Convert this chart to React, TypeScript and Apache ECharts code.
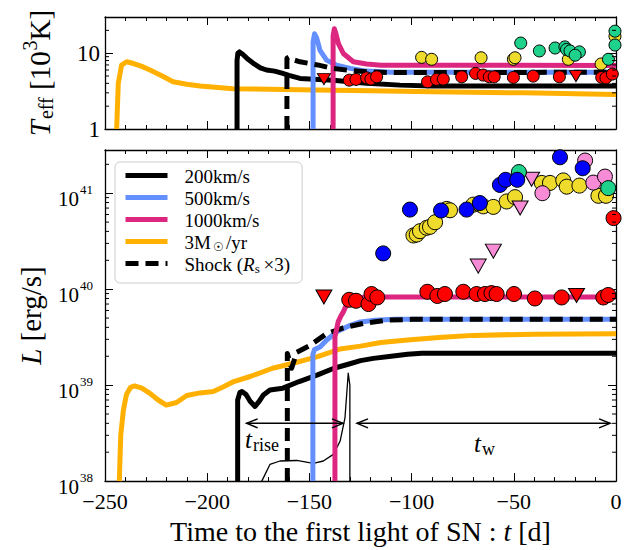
import React, { useEffect, useRef } from 'react';
import * as echarts from 'echarts';

const SERIF = '"Liberation Serif", "Times New Roman", serif';

// axis extents and ticks
const X_MIN = -250;
const X_MAX = 0;
const X_STEP = 50;
const TEFF_MIN = 1;
const TEFF_MAX = 30;
const LUM_MIN = 1e38;
const LUM_MAX = 2.82e41;
const teffMinorTicks = [2, 3, 4, 5, 6, 7, 8, 9, 20];
const lumMinorMantissas = [2, 3, 4, 5, 6, 7, 8, 9];
const lumMinorDecades = [1e38, 1e39, 1e40, 1e41];

// legend names
const N200 = '200km/s';
const N500 = '500km/s';
const N1000 = '1000km/s';
const NMDOT = '3M☉/yr';
const NSHOCK = 'Shock (Rs×3)';
const legendNames = [N200, N500, N1000, NMDOT, NSHOCK];

// ---- model curves: effective temperature [10^3 K] ----
const teff200 = [[-185.4, 1], [-185.4, 8], [-185, 10], [-184.2, 10.4], [-182.5, 9.6], [-180, 8.3], [-177.6, 7.4], [-174, 6.4], [-171, 6.0], [-167, 5.8], [-163, 5.4], [-160, 5.1], [-154.6, 4.65], [-138.5, 4.41], [-122, 4.0], [-105.7, 3.79], [-90, 3.7], [0, 3.7]];
const teff500 = [[-148.2, 1], [-148.2, 14], [-147.5, 18], [-146.5, 16], [-144.8, 10.9], [-141.6, 8.1], [-136.7, 6.95], [-130, 6.3], [-122, 5.8], [-110, 5.6], [0, 5.6]];
const teff1000 = [[-138.4, 1], [-138.4, 17], [-137.8, 21], [-137, 18], [-135.8, 13.4], [-133.4, 9.9], [-128.5, 7.7], [-122, 7.2], [-115, 6.95], [0, 6.9]];
const teffMdot = [[-244.3, 1], [-243.5, 4.0], [-241.9, 6.95], [-239.4, 7.7], [-236, 7.3], [-232, 6.7], [-228, 6.0], [-222, 5.0], [-216.7, 4.2], [-210, 3.9], [-203.5, 3.68], [-187.4, 3.4], [-154.6, 3.3], [-120, 3.2], [-89.5, 3.1], [-45, 3.0], [0, 2.86]];
const teffShock = [[-161, 1], [-161, 8.6], [-160, 8.9], [-158, 8.2], [-154.6, 7.7], [-146, 7.0], [-138.5, 6.3], [-130, 5.9], [-122, 5.7], [-110, 5.55], [0, 5.6]];

// ---- model curves: luminosity [erg/s] ----
const lum200 = [[-185.1, 1e38], [-185.1, 7e38], [-184, 8.4e38], [-183, 8.6e38], [-181, 8.0e38], [-179, 6.8e38], [-176.6, 6.0e38], [-174.5, 6.8e38], [-172.5, 7.9e38], [-169.3, 8.9e38], [-163, 9.3e38], [-155, 1.09e39], [-146, 1.28e39], [-138, 1.5e39], [-131, 1.65e39], [-125, 1.8e39], [-118.7, 1.9e39], [-110, 2.0e39], [-102, 2.1e39], [-95, 2.15e39], [0, 2.15e39]];
const lum500 = [[-148.3, 1e38], [-148.3, 2.1e39], [-147.5, 2.35e39], [-144.8, 2.5e39], [-141.5, 2.95e39], [-136.6, 3.6e39], [-130, 4.2e39], [-125, 4.55e39], [-118, 4.75e39], [-108, 4.85e39], [0, 4.85e39]];
const lum1000 = [[-137.5, 1e38], [-137.5, 3.2e39], [-136.6, 3.9e39], [-135.9, 4.6e39], [-134.5, 5.3e39], [-133.4, 5.8e39], [-131.8, 6.9e39], [-130, 7.5e39], [-127, 8.1e39], [-122, 8.3e39], [0, 8.3e39]];
const lumMdot = [[-243, 1e38], [-242.3, 3e38], [-241, 5.5e38], [-239.5, 8e38], [-237.5, 9.5e38], [-235.5, 9.8e38], [-232, 9.3e38], [-228, 8.2e38], [-224, 7e38], [-220, 6.2e38], [-215, 6.6e38], [-210, 7.8e38], [-203.5, 8.3e38], [-197, 8.6e38], [-192, 9.6e38], [-187, 1.09e39], [-179, 1.23e39], [-168, 1.5e39], [-158, 1.69e39], [-146, 1.98e39], [-135, 2.38e39], [-125, 2.55e39], [-115, 2.78e39], [-102, 2.95e39], [-85, 3.15e39], [-70, 3.3e39], [-40, 3.4e39], [0, 3.43e39]];
const lumShock = [[-160.8, 1e38], [-160.8, 2.14e39], [-158.7, 1.5e39], [-156.2, 2.2e39], [-149.7, 2.6e39], [-141.5, 3.45e39], [-133.4, 3.96e39], [-123.6, 4.4e39], [-112, 4.75e39], [-100, 4.85e39], [0, 4.85e39]];
const lumThin = [[-173.3, 1e38], [-169.3, 1.49e38], [-164.4, 1.62e38], [-156.2, 1.64e38], [-148.1, 1.53e38], [-143.2, 1.62e38], [-138.3, 1.9e38], [-135, 2.6e38], [-132.6, 4.55e38], [-131, 1.33e39], [-130.2, 1.0e39], [-130.2, 1e38]];

// ---- observations: effective temperature ----
const obsTeffRed = [[-130.5, 4.41], [-127.2, 4.51], [-122, 4.73], [-119.9, 4.55], [-117.1, 4.88], [-92.2, 4.19], [-87.8, 4.51], [-84.5, 4.55], [-75.5, 4.88], [-68.7, 5.41], [-65, 5.14], [-62, 4.88], [-59.6, 4.88], [-50.2, 4.79], [-40.5, 4.98], [-27.7, 4.88], [-7, 4.79], [-4.9, 4.73], [-1.8, 5.3]];
const obsTeffRedLimits = [[-142.9, 4.55], [-19.6, 4.98]];
const obsTeffYellow = [[-95.1, 8.8], [-90.2, 8.3], [-66, 8.7], [-50.2, 8.3], [-49.4, 8.7], [-23.3, 8.3], [-7.3, 7.2], [-0.5, 16.7]];
const obsTeffGreen = [[-46.6, 13.6], [-37.5, 10.7], [-29.8, 11.7], [-25, 12.1], [-24.2, 11.2], [-22.5, 10.7], [-17.9, 10.4], [-20, 9.4], [-3.7, 8.3], [-0.5, 12.8], [-0.5, 19.5]];

// ---- observations: luminosity ----
const obsLumRed = [[-130.5, 7.75e39], [-127.2, 7.57e39], [-121.1, 7.0e39], [-119.6, 8.9e39], [-116.8, 8.2e39], [-92.3, 9.4e39], [-87.4, 8.5e39], [-83.7, 8.9e39], [-74.7, 9.4e39], [-68.2, 8.9e39], [-64.1, 8.9e39], [-60.9, 9.1e39], [-58.4, 8.9e39], [-49.9, 8.9e39], [-39.7, 8.0e39], [-26.6, 8.2e39], [-6.2, 8.2e39], [-3.8, 8.7e39], [-1.2, 5.5e40]];
const obsLumRedLimits = [[-142.9, 8.3e39], [-19.3, 8.6e39]];
const obsLumBlue = [[-113.9, 2.36e40], [-100.8, 6.75e40], [-85.6, 6.6e40], [-73.1, 6.75e40], [-66.6, 7.9e40], [-56.8, 1.22e41], [-54, 1.38e41], [-48.3, 1.38e41], [-27.4, 2.37e41], [-16.3, 1.82e41]];
const obsLumYellow = [[-99.1, 3.63e40], [-97.5, 3.71e40], [-95.9, 4.02e40], [-92.6, 4.36e40], [-91, 4.46e40], [-88.5, 4.98e40], [-82.8, 6.86e40], [-81.2, 6.64e40], [-69.8, 7.6e40], [-66.5, 7.6e40], [-64.9, 7.3e40], [-60, 7.2e40], [-53.5, 8.2e40], [-49.4, 9.1e40], [-36.3, 1.28e41], [-32.3, 1.28e41], [-25.8, 1.36e41], [-24.1, 1.17e41], [-17.9, 1.2e41], [-8.6, 9.4e40], [-4.9, 9.4e40]];
const obsLumGreen = [[-47.5, 1.66e41], [-3.8, 1.13e41]];
const obsLumPink = [[-36, 1.0e41], [-15.1, 2.19e41], [-11.1, 1.29e41], [-5.4, 1.49e41]];
const obsLumPinkLimits = [[-41.3, 1.4e41], [-46.9, 7.0e40], [-60, 2.49e40], [-67.4, 1.74e40]];

// ---- annotations ----
const ARROW_LEVEL = 4.0e38;
const arrowSpans = [[-180.7, -133.6], [-126.7, -2.9]];
const annoLabelPos = [[-181.5, 2.69e38], [-69.5, 2.45e38]];
const annoLabelSub = ['rise', 'w'];

const C_BLACK = '#000000';
const C_BLUE = '#648FFF';
const C_PINK = '#DC267F';
const C_ORANGE = '#FFB000';

function lineS(name: string, data: number[][], color: string, panel: number, extra: any = {}) {
  return {
    type: 'line',
    name,
    data,
    xAxisIndex: panel === 0 ? 0 : 2,
    yAxisIndex: panel === 0 ? 0 : 2,
    showSymbol: false,
    symbol: 'none',
    lineStyle: { color, width: 5, cap: 'butt', join: 'round', ...(extra.lineStyle || {}) },
    itemStyle: { color },
    z: extra.z ?? 2,
    silent: true,
  };
}

function scatterS(name: string, data: number[][], color: string, panel: number, size: number, tri = false) {
  return {
    type: 'scatter',
    name,
    data,
    xAxisIndex: panel === 0 ? 0 : 2,
    yAxisIndex: panel === 0 ? 0 : 2,
    symbol: tri ? 'triangle' : 'circle',
    symbolRotate: tri ? 180 : 0,
    symbolSize: tri ? [size + 1, size - 1] : size,
    itemStyle: { color, borderColor: '#000', borderWidth: 1, opacity: 1 },
    z: 5,
    silent: true,
  };
}

function minorTickSeries(values: number[], panel: number) {
  return {
    type: 'custom',
    xAxisIndex: panel === 0 ? 0 : 2,
    yAxisIndex: panel === 0 ? 0 : 2,
    data: values.map((v) => [X_MIN, v]),
    silent: true,
    z: 10,
    clip: false,
    renderItem: (params: any, api: any) => {
      const v = api.value(1);
      const l = api.coord([X_MIN, v]);
      const r = api.coord([X_MAX, v]);
      const st = { stroke: '#000', lineWidth: 1 };
      return {
        type: 'group',
        children: [
          { type: 'line', shape: { x1: l[0], y1: l[1], x2: l[0] + 4, y2: l[1] }, style: st },
          { type: 'line', shape: { x1: r[0], y1: r[1], x2: r[0] - 4, y2: r[1] }, style: st },
        ],
      };
    },
  };
}

const lumMinorTicks: number[] = [];
lumMinorDecades.forEach((d) => lumMinorMantissas.forEach((m) => {
  const v = d * m;
  if (v < LUM_MAX) lumMinorTicks.push(v);
}));

function isPow10(v: number) {
  const e = Math.log10(v);
  return Math.abs(e - Math.round(e)) < 1e-6;
}

const xFmt = (v: number) => (v < 0 ? '\u2212' + Math.abs(v) : String(v));

function xAxisDef(grid: number, pos: 'bottom' | 'top', labels: boolean, extra: any = {}) {
  return {
    type: 'value',
    gridIndex: grid,
    position: pos,
    min: X_MIN,
    max: X_MAX,
    interval: X_STEP,
    axisLine: { show: true, onZero: false, lineStyle: { color: '#000', width: 1.3 } },
    axisTick: { show: true, inside: true, length: 8, lineStyle: { color: '#000', width: 1 } },
    minorTick: { show: true, splitNumber: 5, length: 4, lineStyle: { color: '#000', width: 1 } },
    splitLine: { show: false },
    minorSplitLine: { show: false },
    axisLabel: labels
      ? { show: true, formatter: xFmt, fontFamily: SERIF, fontSize: 22, color: '#000', margin: 9 }
      : { show: false },
    ...extra,
  };
}

const expRich = {
  b: { fontFamily: SERIF, fontSize: 21, lineHeight: 21, verticalAlign: 'top', padding: [6, 0, 0, 0], color: '#000' },
  s: { fontFamily: SERIF, fontSize: 13, lineHeight: 13, verticalAlign: 'top', padding: [0, 0, 0, 1], color: '#000' },
};

function yAxisDef(grid: number, pos: 'left' | 'right', min: number, max: number, labels: any, extra: any = {}) {
  return {
    type: 'log',
    logBase: 10,
    gridIndex: grid,
    position: pos,
    min,
    max,
    axisLine: { show: true, onZero: false, lineStyle: { color: '#000', width: 1.3 } },
    axisTick: { show: true, inside: true, length: 8, lineStyle: { color: '#000', width: 1 } },
    splitLine: { show: false },
    axisLabel: labels || { show: false },
    ...extra,
  };
}

const nameRichTeff = {
  i: { fontFamily: SERIF, fontStyle: 'italic', fontSize: 29, lineHeight: 29, verticalAlign: 'top', padding: [8, 0, 0, 0], color: '#000' },
  n: { fontFamily: SERIF, fontSize: 29, lineHeight: 29, verticalAlign: 'top', padding: [8, 0, 0, 0], color: '#000' },
  sb: { fontFamily: SERIF, fontSize: 20, lineHeight: 20, verticalAlign: 'top', padding: [19, 0, 0, 1], color: '#000' },
  sp: { fontFamily: SERIF, fontSize: 20, lineHeight: 20, verticalAlign: 'top', padding: [3, 0, 0, 1], color: '#000' },
};

const legendRich = {
  f: { fontFamily: SERIF, fontSize: 19, lineHeight: 19, verticalAlign: 'top', padding: [1, 0, 2, 12], color: '#000' },
  n: { fontFamily: SERIF, fontSize: 19, lineHeight: 19, verticalAlign: 'top', padding: [1, 0, 2, 0], color: '#000' },
  i: { fontFamily: SERIF, fontStyle: 'italic', fontSize: 19, lineHeight: 19, verticalAlign: 'top', padding: [1, 0, 2, 0], color: '#000' },
  sb: { fontFamily: SERIF, fontSize: 13, lineHeight: 13, verticalAlign: 'top', padding: [8, 0, 1, 0], color: '#000' },
  sun: { fontFamily: '"DejaVu Serif", serif', fontSize: 12, lineHeight: 12, verticalAlign: 'top', padding: [9, 2, 1, 2], color: '#000' },
};

const legendFmt = (name: string) => {
  if (name === NMDOT) return '{f|3M}{sun|☉}{n|/yr}';
  if (name === NSHOCK) return '{f|Shock (}{i|R}{sb|s}{n|\u2009×3)}';
  return `{f|${name}}`;
};

const DASH = [13, 7];

const option: any = {
  animation: false,
  backgroundColor: '#ffffff',
  textStyle: { fontFamily: SERIF },
  grid: [
    { left: 105, top: 17, width: 511, height: 112, containLabel: false },
    { left: 105, top: 150, width: 511, height: 333, containLabel: false },
  ],
  legend: {
    data: legendNames,
    orient: 'vertical',
    left: 115,
    top: 162,
    padding: [4, 12, 7, 8],
    itemWidth: 42,
    itemHeight: 10,
    itemGap: 0,
    selectedMode: false,
    borderColor: '#cccccc',
    borderWidth: 1,
    borderRadius: 5,
    backgroundColor: 'rgba(255,255,255,0.85)',
    lineStyle: { width: 5 },
    itemStyle: { opacity: 0 },
    formatter: legendFmt,
    textStyle: { fontFamily: SERIF, fontSize: 19, color: '#000', rich: legendRich },
  },
  xAxis: [
    xAxisDef(0, 'bottom', false),
    xAxisDef(0, 'top', false),
    xAxisDef(1, 'bottom', true, {
      name: '{n|Time to the first light of SN : }{i|t}{n| [d]}',
      nameLocation: 'middle',
      nameGap: 28,
      nameTextStyle: {
        fontFamily: SERIF,
        fontSize: 28,
        color: '#000',
        verticalAlign: 'top',
        rich: {
          n: { fontFamily: SERIF, fontSize: 28, color: '#000' },
          i: { fontFamily: SERIF, fontSize: 28, fontStyle: 'italic', color: '#000' },
        },
      },
    }),
    xAxisDef(1, 'top', false),
  ],
  yAxis: [
    yAxisDef(0, 'left', TEFF_MIN, TEFF_MAX, {
      show: true,
      fontFamily: SERIF,
      fontSize: 23,
      color: '#000',
      margin: 5,
      formatter: (v: number) => (isPow10(v) ? String(Math.round(v)) : ''),
    }, {
      name: '{i|T}{sb|eff}{n| [10}{sp|3}{n|K]}',
      nameLocation: 'middle',
      nameRotate: 90,
      nameGap: 59,
      nameTextStyle: { fontFamily: SERIF, fontSize: 29, color: '#000', rich: nameRichTeff },
    }),
    yAxisDef(0, 'right', TEFF_MIN, TEFF_MAX, null),
    yAxisDef(1, 'left', LUM_MIN, LUM_MAX, {
      show: true,
      margin: 12,
      formatter: (v: number) => (isPow10(v) ? `{b|10}{s|${Math.round(Math.log10(v))}}` : ''),
      rich: expRich,
    }, {
      name: '{i|L}{n| [erg/s]}',
      nameLocation: 'middle',
      nameRotate: 90,
      nameGap: 60,
      nameTextStyle: {
        fontFamily: SERIF,
        fontSize: 29,
        color: '#000',
        rich: {
          i: { fontFamily: SERIF, fontSize: 29, fontStyle: 'italic', color: '#000' },
          n: { fontFamily: SERIF, fontSize: 29, color: '#000' },
        },
      },
    }),
    yAxisDef(1, 'right', LUM_MIN, LUM_MAX, null),
  ],
  series: [
    // top panel models
    lineS(NMDOT, teffMdot, C_ORANGE, 0),
    lineS(N200, teff200, C_BLACK, 0),
    lineS(N500, teff500, C_BLUE, 0),
    lineS(N1000, teff1000, C_PINK, 0),
    lineS(NSHOCK, teffShock, C_BLACK, 0, { lineStyle: { type: DASH } }),
    // top panel observations
    scatterS('teff-red', obsTeffRed, '#FF0000', 0, 12),
    scatterS('teff-red-lim', obsTeffRedLimits, '#FF0000', 0, 12, true),
    scatterS('teff-yellow', obsTeffYellow, '#EEDB2C', 0, 12),
    scatterS('teff-green', obsTeffGreen, '#1FD28C', 0, 12),
    // bottom panel models
    lineS('thin', lumThin, C_BLACK, 1, { lineStyle: { width: 1.3 }, z: 1 }),
    lineS(NMDOT, lumMdot, C_ORANGE, 1),
    lineS(N200, lum200, C_BLACK, 1),
    lineS(N500, lum500, C_BLUE, 1),
    lineS(NSHOCK, lumShock, C_BLACK, 1, { lineStyle: { type: DASH } }),
    lineS(N1000, lum1000, C_PINK, 1),
    // bottom panel observations
    scatterS('lum-red', obsLumRed, '#FF0000', 1, 15),
    scatterS('lum-red-lim', obsLumRedLimits, '#FF0000', 1, 15, true),
    scatterS('lum-yellow', obsLumYellow, '#EEDB2C', 1, 15),
    scatterS('lum-pink', obsLumPink, '#F78BD6', 1, 15),
    scatterS('lum-pink-lim', obsLumPinkLimits, '#F78BD6', 1, 15, true),
    scatterS('lum-green', obsLumGreen, '#1FD28C', 1, 15),
    scatterS('lum-blue', obsLumBlue, '#0000FF', 1, 15),
    // minor log ticks
    minorTickSeries(teffMinorTicks, 0),
    minorTickSeries(lumMinorTicks, 1),
    // arrows
    {
      type: 'custom',
      xAxisIndex: 2,
      yAxisIndex: 2,
      data: arrowSpans.map((s) => [s[0], s[1], ARROW_LEVEL]),
      encode: { x: [0, 1], y: 2 },
      silent: true,
      clip: false,
      z: 6,
      renderItem: (params: any, api: any) => {
        const a = api.coord([api.value(0), api.value(2)]);
        const b = api.coord([api.value(1), api.value(2)]);
        const h = 11;
        const w = 4.5;
        const st = { stroke: '#000', lineWidth: 1.5, fill: 'none' };
        return {
          type: 'group',
          children: [
            { type: 'line', shape: { x1: a[0], y1: a[1], x2: b[0], y2: b[1] }, style: st },
            { type: 'polyline', shape: { points: [[a[0] + h, a[1] - w], [a[0], a[1]], [a[0] + h, a[1] + w]] }, style: st },
            { type: 'polyline', shape: { points: [[b[0] - h, b[1] - w], [b[0], b[1]], [b[0] - h, b[1] + w]] }, style: st },
          ],
        };
      },
    },
    // arrow labels
    {
      type: 'custom',
      xAxisIndex: 2,
      yAxisIndex: 2,
      data: annoLabelPos,
      silent: true,
      clip: false,
      z: 6,
      renderItem: (params: any, api: any) => {
        const p = api.coord([api.value(0), api.value(1)]);
        const sub = annoLabelSub[params.dataIndex];
        return {
          type: 'text',
          x: p[0],
          y: p[1],
          style: {
            text: `{t|t}{s|${sub}}`,
            align: 'left',
            verticalAlign: 'middle',
            fill: '#000',
            rich: {
              t: { fontFamily: SERIF, fontStyle: 'italic', fontSize: 25, lineHeight: 25, verticalAlign: 'top', padding: [0, 0, 2, 0], fill: '#000' },
              s: { fontFamily: SERIF, fontSize: 18, lineHeight: 18, verticalAlign: 'top', padding: [9, 0, 0, 1], fill: '#000' },
            },
          },
        };
      },
    },
  ],
};

export default function App() {
  const ref = useRef<HTMLDivElement>(null);
  useEffect(() => {
    document.body.style.margin = '0';
    const chart = echarts.init(ref.current as HTMLDivElement, null, { renderer: 'svg' });
    chart.setOption(option);
    return () => chart.dispose();
  }, []);
  return <div ref={ref} style={{ width: 636, height: 550 }} />;
}
